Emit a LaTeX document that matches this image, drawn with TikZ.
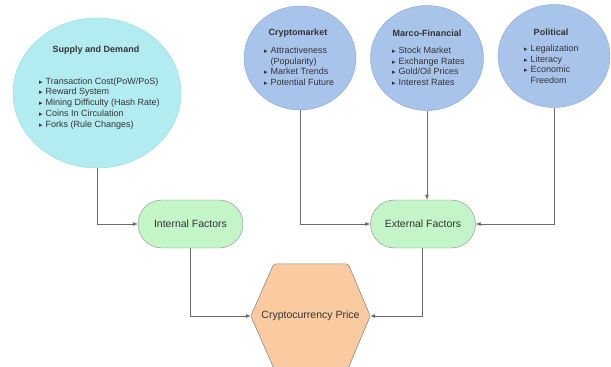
\documentclass[tikz,border=0pt]{standalone}
\usepackage{fontspec}
\setmainfont{Liberation Sans}
\newfontfamily\symf{DejaVu Sans}
\usetikzlibrary{arrows.meta,shapes.geometric}
\definecolor{sdfill}{HTML}{B2ECF0}
\definecolor{sddraw}{HTML}{94DCE2}
\definecolor{bfill}{HTML}{A9C4EB}
\definecolor{bdraw}{HTML}{84A6D8}
\definecolor{gfill}{HTML}{C3F5C8}
\definecolor{ofill}{HTML}{FACBA0}
\definecolor{edge}{HTML}{8A8A8A}
\definecolor{txt}{HTML}{333333}
\definecolor{wire}{HTML}{6A6A6A}
\newcommand\tb{{\symf\fontsize{7}{7}\selectfont ▸}}
\begin{document}
\begin{tikzpicture}[x=1pt,y=-1pt,
  every node/.style={text=txt},
  title/.style={font=\fontsize{9}{10.5}\selectfont\bfseries, inner sep=0},
  list/.style={font=\fontsize{9}{10.7}\selectfont, inner sep=0, anchor=west, align=left},
  factor/.style={draw=edge, fill=gfill, rounded corners=24pt, minimum width=105pt, minimum height=48pt, font=\fontsize{10.5}{12}\selectfont},
  wirestyle/.style={draw=wire, line width=0.6pt, -{Latex[length=5pt,width=4pt]}}
]
\useasboundingbox (0,0) rectangle (611,367);
% ellipses
\node[draw=sddraw, fill=sdfill, ellipse, minimum width=168pt, minimum height=150pt, inner sep=0] (sd) at (97,93) {};
\node[draw=bdraw, fill=bfill, ellipse, minimum width=112pt, minimum height=104pt, inner sep=0] (cm) at (300,58) {};
\node[draw=bdraw, fill=bfill, ellipse, minimum width=113pt, minimum height=105pt, inner sep=0] (mf) at (427,58) {};
\node[draw=bdraw, fill=bfill, ellipse, minimum width=112pt, minimum height=103pt, inner sep=0] (po) at (554,56) {};
% texts
\node[title] (sdt) at (96,50) {Supply and Demand};
\node[list] (sdl) at (39,103.5) {\begin{tabular}{@{}l@{\hspace{3pt}}l@{}}
\tb & Transaction Cost(PoW/PoS)\\
\tb & Reward System\\
\tb & Mining Difficulty (Hash Rate)\\
\tb & Coins In Circulation\\
\tb & Forks (Rule Changes)
\end{tabular}};
\node[title] (cmt) at (298,33) {Cryptomarket};
\node[list] (cml) at (264,67.5) {\begin{tabular}{@{}l@{\hspace{3pt}}l@{}}
\tb & Attractiveness\\
 & (Popularity)\\
\tb & Market Trends\\
\tb & Potential Future
\end{tabular}};
\node[title] (mft) at (427,33) {Marco-Financial};
\node[list] (mfl) at (392,67.5) {\begin{tabular}{@{}l@{\hspace{3pt}}l@{}}
\tb & Stock Market\\
\tb & Exchange Rates\\
\tb & Gold/Oil Prices\\
\tb & Interest Rates
\end{tabular}};
\node[title] (pot) at (551,32) {Political};
\node[list] (pol) at (524,65.5) {\begin{tabular}{@{}l@{\hspace{3pt}}l@{}}
\tb & Legalization\\
\tb & Literacy\\
\tb & Economic\\
 & Freedom
\end{tabular}};
% factors
\node[factor] (inf) at (190.5,224) {Internal Factors};
\node[factor] (exf) at (423,224) {External Factors};
% hexagon
\node[minimum width=119pt, minimum height=104pt, inner sep=0, font=\fontsize{10.5}{12}\selectfont] (hex) at (310.5,316) {};
\draw[draw=edge, fill=ofill, line width=0.6pt, rounded corners=2pt]
  (hex.west) -- ([xshift=23pt]hex.north west) -- ([xshift=-22pt]hex.north east) -- (hex.east)
  -- ([xshift=-22pt]hex.south east) -- ([xshift=23pt]hex.south west) -- cycle;
\node[font=\fontsize{10.5}{12}\selectfont] (hext) at (hex.center) {Cryptocurrency Price};
% connectors
\draw[wirestyle] (sd.south) -- (sd.south |- inf.west) -- (inf.west);
\draw[wirestyle] (cm.south) -- (cm.south |- exf.west) -- (exf.west);
\draw[wirestyle] (mf.south) -- (mf.south |- exf.north);
\draw[wirestyle] (po.south) -- (po.south |- exf.east) -- (exf.east);
\draw[wirestyle] (inf.south) -- (inf.south |- hex.west) -- (hex.west);
\draw[wirestyle] ([xshift=-1pt]exf.south) -- ([xshift=-1pt]exf.south |- hex.east) -- (hex.east);
\end{tikzpicture}
\end{document}
